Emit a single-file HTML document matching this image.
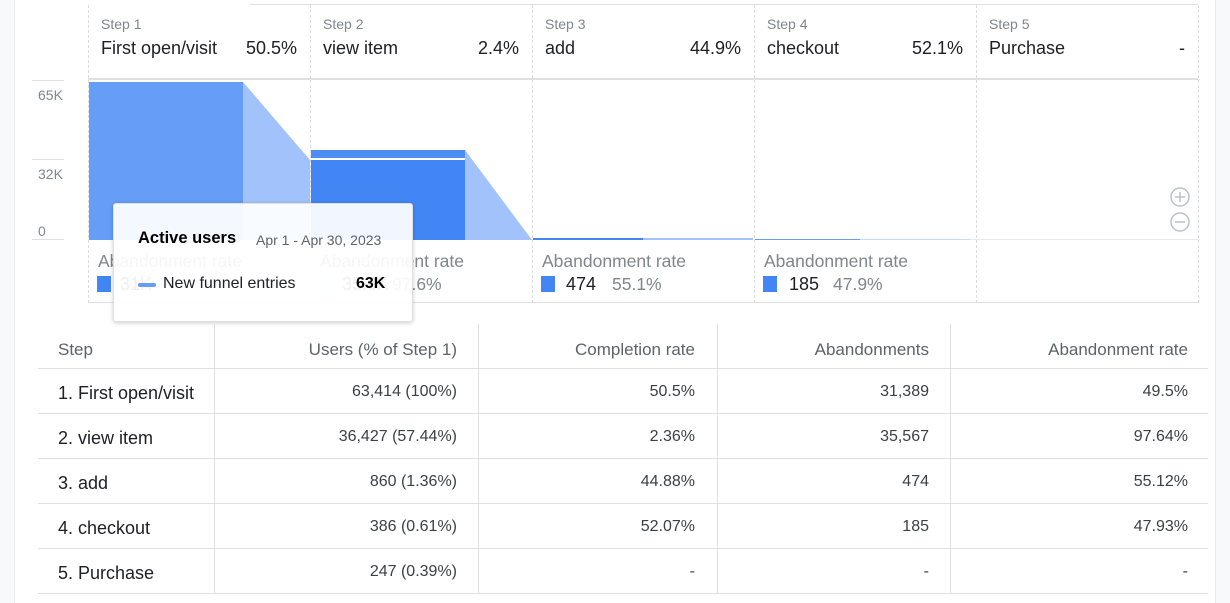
<!DOCTYPE html>
<html><head><meta charset="utf-8"><style>
*{margin:0;padding:0;box-sizing:border-box}
body{width:1230px;height:603px;position:relative;background:#fff;font-family:"Liberation Sans",Arial,sans-serif;overflow:hidden;color:#202124}
.a{position:absolute;white-space:nowrap}
.vd{position:absolute;width:0;border-left:1px dashed #dadce0}
.sl{font-size:14px;color:#80868b}
.sn{font-size:18px;color:#202124}
.ab{font-size:17.5px;color:#80868b}
.sq{position:absolute;width:14px;height:16px;background:#4285f4}
.hl{position:absolute;height:1px;background:#e0e0e0}
.th{font-size:17px;color:#5f6368}
.td{font-size:18px;color:#202124}
.tdr{font-size:16px;color:#3c4043}
</style></head><body>
<div class="a" style="left:0;top:0;width:15px;height:603px;background:#f8f9fa;border-right:1px solid #e8eaed"></div>
<div class="a" style="left:1215px;top:0;width:15px;height:603px;background:#f8f9fa;border-left:1px solid #e8eaed"></div>
<div class="hl" style="left:250px;top:4px;width:948px"></div>
<div class="hl" style="left:88px;top:78px;width:1110px;height:2px"></div>
<div class="hl" style="left:88px;top:302px;width:1110px"></div>
<div class="vd" style="left:88px;top:5px;height:298px"></div>
<div class="vd" style="left:310px;top:5px;height:298px"></div>
<div class="vd" style="left:532px;top:5px;height:298px"></div>
<div class="vd" style="left:754px;top:5px;height:298px"></div>
<div class="vd" style="left:976px;top:5px;height:298px"></div>
<div class="vd" style="left:1198px;top:5px;height:298px"></div>

<div class="a sl" style="left:101px;top:16px">Step 1</div>
<div class="a sn" style="left:101px;top:38px">First open/visit</div>
<div class="a sn" style="right:933px;top:38px">50.5%</div>
<div class="a sl" style="left:323px;top:16px">Step 2</div>
<div class="a sn" style="left:323px;top:38px">view item</div>
<div class="a sn" style="right:711px;top:38px">2.4%</div>
<div class="a sl" style="left:545px;top:16px">Step 3</div>
<div class="a sn" style="left:545px;top:38px">add</div>
<div class="a sn" style="right:489px;top:38px">44.9%</div>
<div class="a sl" style="left:767px;top:16px">Step 4</div>
<div class="a sn" style="left:767px;top:38px">checkout</div>
<div class="a sn" style="right:267px;top:38px">52.1%</div>
<div class="a sl" style="left:989px;top:16px">Step 5</div>
<div class="a sn" style="left:989px;top:38px">Purchase</div>
<div class="a sn" style="right:45px;top:38px">-</div>

<div class="hl" style="left:32px;top:80px;width:32px"></div>
<div class="hl" style="left:32px;top:159px;width:32px"></div>
<div class="hl" style="left:32px;top:239px;width:32px"></div>
<div class="a sl" style="left:38px;top:87px">65K</div>
<div class="a sl" style="left:38px;top:166px">32K</div>
<div class="a sl" style="left:38px;top:223px">0</div>
<div class="hl" style="left:88px;top:239px;width:1110px;background:#e8eaed"></div>

<svg class="a" style="left:0;top:0" width="1230" height="300">
<rect x="89" y="82" width="154" height="158" fill="#669df6"/>
<polygon points="243,82 310,160 310,240 243,240" fill="#a1c2fa"/>
<rect x="311" y="150" width="154" height="8" fill="#4d8ef5"/>
<rect x="311" y="160" width="154" height="80" fill="#4285f4"/>
<polygon points="465,150 532,240 465,240" fill="#a1c2fa"/>
<rect x="533" y="238" width="110" height="2" fill="#4285f4"/>
<rect x="643" y="238" width="110" height="2" fill="#a1c2fa"/>
<rect x="755" y="239" width="105" height="1" fill="#669df6"/>
<rect x="860" y="239" width="110" height="1" fill="#c6dafc"/>
<circle cx="1180" cy="197" r="9" fill="none" stroke="#bdc1c6" stroke-width="1.5"/>
<path d="M1175 197h10M1180 192v10" stroke="#bdc1c6" stroke-width="1.5"/>
<circle cx="1180" cy="222" r="9" fill="none" stroke="#bdc1c6" stroke-width="1.5"/>
<path d="M1175 222h10" stroke="#bdc1c6" stroke-width="1.5"/>
</svg>

<div class="a ab" style="left:98px;top:251px">Abandonment rate</div>
<div class="sq" style="left:97px;top:276px"></div>
<div class="a sn" style="left:120px;top:274px;color:#202124">31K</div>
<div class="a ab" style="left:320px;top:251px">Abandonment rate</div>
<div class="sq" style="left:319px;top:276px;background:#eef3fe"></div>
<div class="a sn" style="left:342px;top:274px">35.6K</div><div class="a ab" style="left:392px;top:274px">97.6%</div>
<div class="a ab" style="left:542px;top:251px">Abandonment rate</div>
<div class="sq" style="left:541px;top:276px"></div>
<div class="a sn" style="left:566px;top:274px">474</div><div class="a ab" style="left:612px;top:274px">55.1%</div>
<div class="a ab" style="left:764px;top:251px">Abandonment rate</div>
<div class="sq" style="left:763px;top:276px"></div>
<div class="a sn" style="left:789px;top:274px">185</div><div class="a ab" style="left:833px;top:274px">47.9%</div>

<div class="a" style="left:113px;top:203px;width:300px;height:119px;background:rgba(255,255,255,0.93);border:1px solid #e0e0e0;border-radius:3px;box-shadow:0 1px 4px rgba(0,0,0,0.2)"></div>
<div class="a" style="left:138px;top:229px;font-size:16.5px;font-weight:bold;color:#000">Active users</div>
<div class="a" style="left:256px;top:232px;font-size:14px;color:#5f6368">Apr 1 - Apr 30, 2023</div>
<div class="a" style="left:138px;top:283px;width:18px;height:4px;border-radius:2px;background:#669df6"></div>
<div class="a" style="left:163px;top:275px;font-size:16px;color:#202124">New funnel entries</div>
<div class="a" style="left:356px;top:275px;font-size:16px;font-weight:bold;color:#000">63K</div>

<div class="hl" style="left:38px;top:368px;width:1170px"></div>
<div class="hl" style="left:38px;top:413px;width:1170px"></div>
<div class="hl" style="left:38px;top:458px;width:1170px"></div>
<div class="hl" style="left:38px;top:503px;width:1170px"></div>
<div class="hl" style="left:38px;top:548px;width:1170px"></div>
<div class="hl" style="left:38px;top:593px;width:1170px"></div>
<div class="a" style="left:214px;top:324px;width:1px;height:269px;background:#e0e0e0"></div>
<div class="a" style="left:478px;top:324px;width:1px;height:269px;background:#e0e0e0"></div>
<div class="a" style="left:717px;top:324px;width:1px;height:269px;background:#e0e0e0"></div>
<div class="a" style="left:950px;top:324px;width:1px;height:269px;background:#e0e0e0"></div>

<div class="a th" style="left:58px;top:340px">Step</div>
<div class="a th" style="right:773px;top:340px">Users (% of Step 1)</div>
<div class="a th" style="right:535px;top:340px">Completion rate</div>
<div class="a th" style="right:301px;top:340px">Abandonments</div>
<div class="a th" style="right:42px;top:340px">Abandonment rate</div>

<div class="a td" style="left:58px;top:383px">1. First open/visit</div>
<div class="a td" style="left:58px;top:428px">2. view item</div>
<div class="a td" style="left:58px;top:473px">3. add</div>
<div class="a td" style="left:58px;top:518px">4. checkout</div>
<div class="a td" style="left:58px;top:563px">5. Purchase</div>

<div class="a tdr" style="right:773px;top:383px">63,414 (100%)</div>
<div class="a tdr" style="right:773px;top:428px">36,427 (57.44%)</div>
<div class="a tdr" style="right:773px;top:473px">860 (1.36%)</div>
<div class="a tdr" style="right:773px;top:518px">386 (0.61%)</div>
<div class="a tdr" style="right:773px;top:563px">247 (0.39%)</div>

<div class="a tdr" style="right:535px;top:383px">50.5%</div>
<div class="a tdr" style="right:535px;top:428px">2.36%</div>
<div class="a tdr" style="right:535px;top:473px">44.88%</div>
<div class="a tdr" style="right:535px;top:518px">52.07%</div>
<div class="a tdr" style="right:535px;top:563px">-</div>

<div class="a tdr" style="right:301px;top:383px">31,389</div>
<div class="a tdr" style="right:301px;top:428px">35,567</div>
<div class="a tdr" style="right:301px;top:473px">474</div>
<div class="a tdr" style="right:301px;top:518px">185</div>
<div class="a tdr" style="right:301px;top:563px">-</div>

<div class="a tdr" style="right:42px;top:383px">49.5%</div>
<div class="a tdr" style="right:42px;top:428px">97.64%</div>
<div class="a tdr" style="right:42px;top:473px">55.12%</div>
<div class="a tdr" style="right:42px;top:518px">47.93%</div>
<div class="a tdr" style="right:42px;top:563px">-</div>
</body></html>
